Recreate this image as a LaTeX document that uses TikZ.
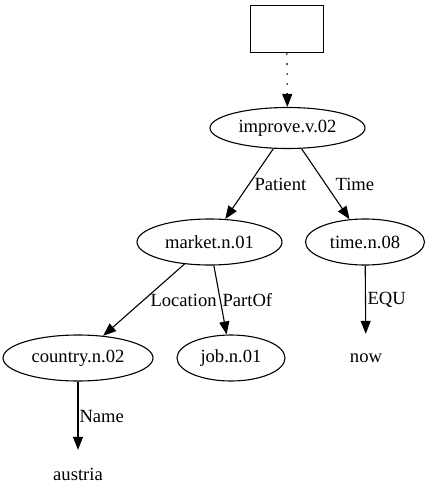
\documentclass[tikz,border=0pt]{standalone}
\usepackage{fontspec}
\setmainfont{Liberation Serif}
\usetikzlibrary{arrows.meta,shapes.geometric}
\begin{document}
\begin{tikzpicture}[x=1pt,y=-1pt,
  every node/.style={font=\fontsize{18.6}{22}\selectfont},
  ell/.style={draw,ellipse,line width=1.1pt,inner sep=0pt,minimum height=46pt},
  plain/.style={inner sep=0pt,minimum height=48pt},
  edge/.style={line width=1.1pt,-{Triangle[length=13pt,width=10pt]}},
  lbl/.style={inner sep=0pt,anchor=west}]
\useasboundingbox (0,0) rectangle (431,504);
\node[draw,line width=1.3pt,minimum width=73pt,minimum height=47pt,inner sep=0pt] (top) at (286.7,29) {};
\node[ell,minimum width=155pt,minimum height=41pt] (improve) at (287.5,128) {improve.v.02};
\node[ell,minimum width=145pt] (market) at (209.5,242) {market.n.01};
\node[ell,minimum width=119pt] (time) at (365,242) {time.n.08};
\node[ell,minimum width=150pt] (country) at (78,358) {country.n.02};
\node[ell,minimum width=108pt] (job) at (231,358) {job.n.01};
\node[plain] (now) at (366,358) {now};
\node[plain] (austria) at (78,474) {austria};
\draw[edge,dash pattern=on 2pt off 8pt] (top) -- (improve);
\draw[edge] (improve) -- (market) node[lbl] (lpatient) at (254,184) {Patient};
\draw[edge] (improve) -- (time) node[lbl] (ltime) at (335,184) {Time};
\draw[edge] (market) -- (country) node[lbl] (lloc) at (150,300) {Location};
\draw[edge] (market) -- (job) node[lbl] (lpart) at (222,300) {PartOf};
\draw[edge] (time) -- (now) node[lbl] (lequ) at (367,300) {EQU};
\draw[edge] (country) -- (austria) node[lbl] (lname) at (79,416) {Name};
\end{tikzpicture}
\end{document}
